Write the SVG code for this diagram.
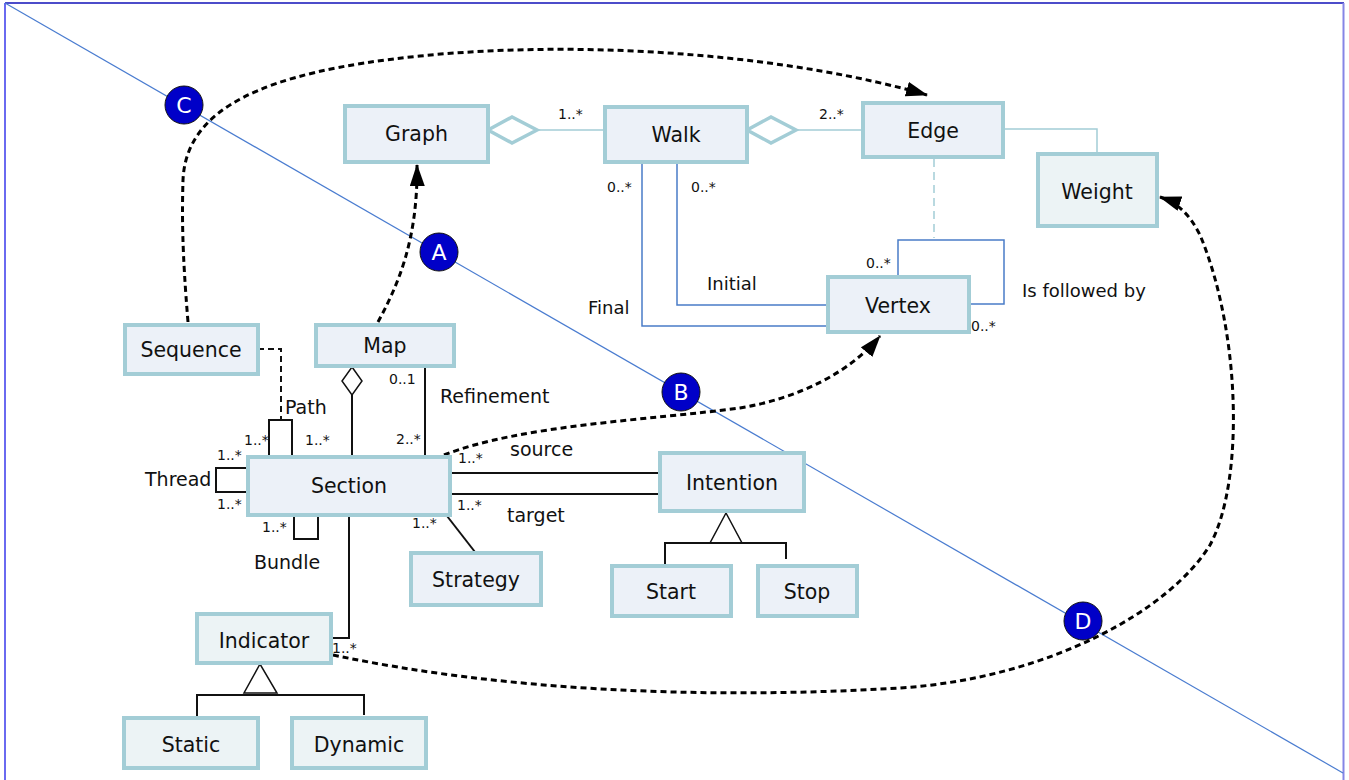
<svg xmlns="http://www.w3.org/2000/svg" width="1349" height="780" viewBox="0 0 1349 780">
<defs>
<style>
.nd rect{fill:#ecf1f8;stroke:#a3cdd6;stroke-width:4}
.nd.g rect{fill:#ecf3f5}
.lbl{font-family:"DejaVu Sans","Liberation Sans",sans-serif;font-size:20.5px;text-anchor:middle;fill:#111}
.t{font-family:"DejaVu Sans","Liberation Sans",sans-serif;font-size:19px;fill:#111}
.m{font-family:"DejaVu Sans","Liberation Sans",sans-serif;font-size:14px;fill:#111}
.k{stroke:#111;stroke-width:2;fill:none}
.b{stroke:#4a7cc8;stroke-width:1.5;fill:none}
.tl{stroke:#a3cdd6;stroke-width:1.5;fill:none}
.dd{stroke:#000;stroke-width:3;fill:none;stroke-dasharray:6 4}
.circ circle{fill:#0000c8;stroke:#111;stroke-width:1}
.circ text{font-family:"DejaVu Sans","Liberation Sans",sans-serif;font-size:22px;fill:#fff;text-anchor:middle}
</style>
<marker id="arr" viewBox="0 0 22 15" refX="21" refY="7.5" markerWidth="22" markerHeight="15" markerUnits="userSpaceOnUse" orient="auto"><path d="M0,0 L22,7.5 L0,15 z" fill="#000"/></marker>
</defs>
<rect x="0" y="0" width="1349" height="780" fill="#fff"/>
<g id="frame">
<line x1="5" y1="3" x2="1344" y2="3" stroke="#1010b8" stroke-width="1.6"/>
<line x1="5" y1="3" x2="5" y2="780" stroke="#6a6af0" stroke-width="2"/>
<line x1="1343.5" y1="3" x2="1343.5" y2="780" stroke="#8585e6" stroke-width="2"/>
<line x1="5" y1="3" x2="1343" y2="773" stroke="#4a7cd0" stroke-width="1.2"/>
</g>
<g id="connectors">
<!-- Graph - Walk aggregation -->
<polygon points="488,130 512,117 537,130 512,143" fill="#fff" stroke="#a3cdd6" stroke-width="3.5"/>
<line class="tl" x1="537" y1="130" x2="605" y2="130"/>
<text class="m" x="558" y="119">1..*</text>
<!-- Walk - Edge aggregation -->
<polygon points="747,130 771,117 796,130 771,143" fill="#fff" stroke="#a3cdd6" stroke-width="3.5"/>
<line class="tl" x1="796" y1="130" x2="862" y2="130"/>
<text class="m" x="819" y="119">2..*</text>
<!-- Edge - Weight -->
<polyline class="tl" points="1003,129 1097,129 1097,153"/>
<!-- Edge dashed to association -->
<line class="tl" x1="934" y1="159" x2="934" y2="238" stroke-dasharray="8 5"/>
<!-- Vertex self loop -->
<polyline class="b" points="898,276 898,240 1004,240 1004,304 969,304"/>
<text class="m" x="866" y="268">0..*</text>
<text class="m" x="971" y="331">0..*</text>
<text class="t" x="1022" y="297" style="font-size:18px">Is followed by</text>
<!-- Walk - Vertex Final -->
<polyline class="b" points="642,162 642,326 828,326"/>
<text class="m" x="607" y="192">0..*</text>
<text class="t" x="588" y="314" style="font-size:18px">Final</text>
<!-- Walk - Vertex Initial -->
<polyline class="b" points="677,163 677,305 828,305"/>
<text class="m" x="691" y="192">0..*</text>
<text class="t" x="707" y="290" style="font-size:18px">Initial</text>
<!-- Sequence - Path -->
<polyline class="k" points="258,349 281,349 281,420" stroke-width="1.5" stroke-dasharray="6 4"/>
<polyline class="k" points="269,456 269,420 292,420 292,456" stroke-width="1.5"/>
<text class="t" x="285" y="414">Path</text>
<text class="m" x="244" y="445">1..*</text>
<text class="m" x="305" y="445">1..*</text>
<!-- Thread -->
<polyline class="k" points="248,468 216,468 216,492 248,492" stroke-width="1.5"/>
<text class="t" x="145" y="486">Thread</text>
<text class="m" x="217" y="460">1..*</text>
<text class="m" x="217" y="509">1..*</text>
<!-- Bundle -->
<polyline class="k" points="294,515 294,539 318,539 318,515" stroke-width="1.5"/>
<text class="t" x="254" y="569">Bundle</text>
<text class="m" x="262" y="532">1..*</text>
<!-- Map - Section aggregation -->
<line class="k" x1="352" y1="395" x2="352" y2="456"/>
<polygon points="352,367 362,381 352,395 342,381" fill="#fff" stroke="#111" stroke-width="1.5"/>
<!-- Refinement -->
<line class="k" x1="425" y1="366" x2="425" y2="456"/>
<text class="m" x="389" y="384">0..1</text>
<text class="m" x="396" y="444">2..*</text>
<text class="t" x="440" y="403">Refinement</text>
<!-- source / target -->
<line class="k" x1="450" y1="473" x2="660" y2="473"/>
<line class="k" x1="450" y1="494" x2="660" y2="494"/>
<text class="m" x="458" y="463">1..*</text>
<text class="t" x="510" y="456">source</text>
<text class="m" x="457" y="510">1..*</text>
<text class="t" x="507" y="522">target</text>
<!-- Strategy -->
<line class="k" x1="447" y1="516" x2="475" y2="552"/>
<text class="m" x="412" y="528">1..*</text>
<!-- Intention generalization -->
<polygon points="726,513 710,543 742,543" fill="#fff" stroke="#111" stroke-width="1.5"/>
<polyline class="k" points="665,565 665,543 786,543 786,559" stroke-width="1.8"/>
<!-- Section - Indicator -->
<polyline class="k" points="349,515 349,638 331,638" stroke-width="1.8"/>
<text class="m" x="332" y="653">1..*</text>
<!-- Indicator generalization -->
<polygon points="260,664 244,693 277,693" fill="#fff" stroke="#111" stroke-width="1.5"/>
<polyline class="k" points="197,717 197,695 364,695 364,715" stroke-width="1.8"/>
<!-- dotted arrows -->
<path class="dd" d="M188,322 C182,250 182,215 183,180 C186,110 260,72 420,56 C600,38 800,58 927,95" marker-end="url(#arr)"/>
<path class="dd" d="M378,322 C398,285 418,240 417,165" marker-end="url(#arr)"/>
<path class="dd" d="M444,455 C520,425 650,420 740,408 C800,398 850,372 880,336" marker-end="url(#arr)"/>
<path class="dd" d="M333,655 C500,690 700,700 900,688 C1050,678 1170,610 1210,545 C1245,480 1240,330 1200,235 C1190,215 1178,203 1160,197" marker-end="url(#arr)"/>
</g>
<g id="graph" class="nd"><rect x="345" y="106" width="143" height="56"/><text class="lbl" x="416.5" y="141">Graph</text></g>
<g id="walk" class="nd"><rect x="605" y="107" width="142" height="55"/><text class="lbl" x="676" y="142">Walk</text></g>
<g id="edge" class="nd"><rect x="863" y="103" width="140" height="54"/><text class="lbl" x="933" y="138">Edge</text></g>
<g id="weight" class="nd g"><rect x="1038" y="154" width="119" height="72"/><text class="lbl" x="1097" y="199">Weight</text></g>
<g id="vertex" class="nd"><rect x="828" y="277" width="141" height="55"/><text class="lbl" x="898" y="313">Vertex</text></g>
<g id="sequence" class="nd"><rect x="125" y="325" width="133" height="49"/><text class="lbl" x="191" y="357">Sequence</text></g>
<g id="map" class="nd"><rect x="316" y="325" width="138" height="41"/><text class="lbl" x="385" y="353">Map</text></g>
<g id="section" class="nd"><rect x="248" y="457" width="202" height="58"/><text class="lbl" x="349" y="493">Section</text></g>
<g id="intention" class="nd"><rect x="660" y="453" width="144" height="58"/><text class="lbl" x="732" y="490">Intention</text></g>
<g id="strategy" class="nd"><rect x="411" y="553" width="130" height="52"/><text class="lbl" x="476" y="587">Strategy</text></g>
<g id="start" class="nd"><rect x="612" y="566" width="119" height="50"/><text class="lbl" x="671" y="599">Start</text></g>
<g id="stop" class="nd"><rect x="758" y="566" width="99" height="50"/><text class="lbl" x="807" y="599">Stop</text></g>
<g id="indicator" class="nd g"><rect x="197" y="614" width="134" height="49"/><text class="lbl" x="264" y="648">Indicator</text></g>
<g id="static" class="nd g"><rect x="124" y="718" width="134" height="50"/><text class="lbl" x="191" y="752">Static</text></g>
<g id="dynamic" class="nd g"><rect x="292" y="718" width="134" height="50"/><text class="lbl" x="359" y="752">Dynamic</text></g>
<g id="markers" class="circ">
<g id="mC"><circle cx="184" cy="105" r="19"/><text x="184" y="113">C</text></g>
<g id="mA"><circle cx="439" cy="252" r="19"/><text x="439" y="260">A</text></g>
<g id="mB"><circle cx="681" cy="392" r="19"/><text x="681" y="400">B</text></g>
<g id="mD"><circle cx="1083" cy="621" r="19"/><text x="1083" y="629">D</text></g>
</g>
</svg>
